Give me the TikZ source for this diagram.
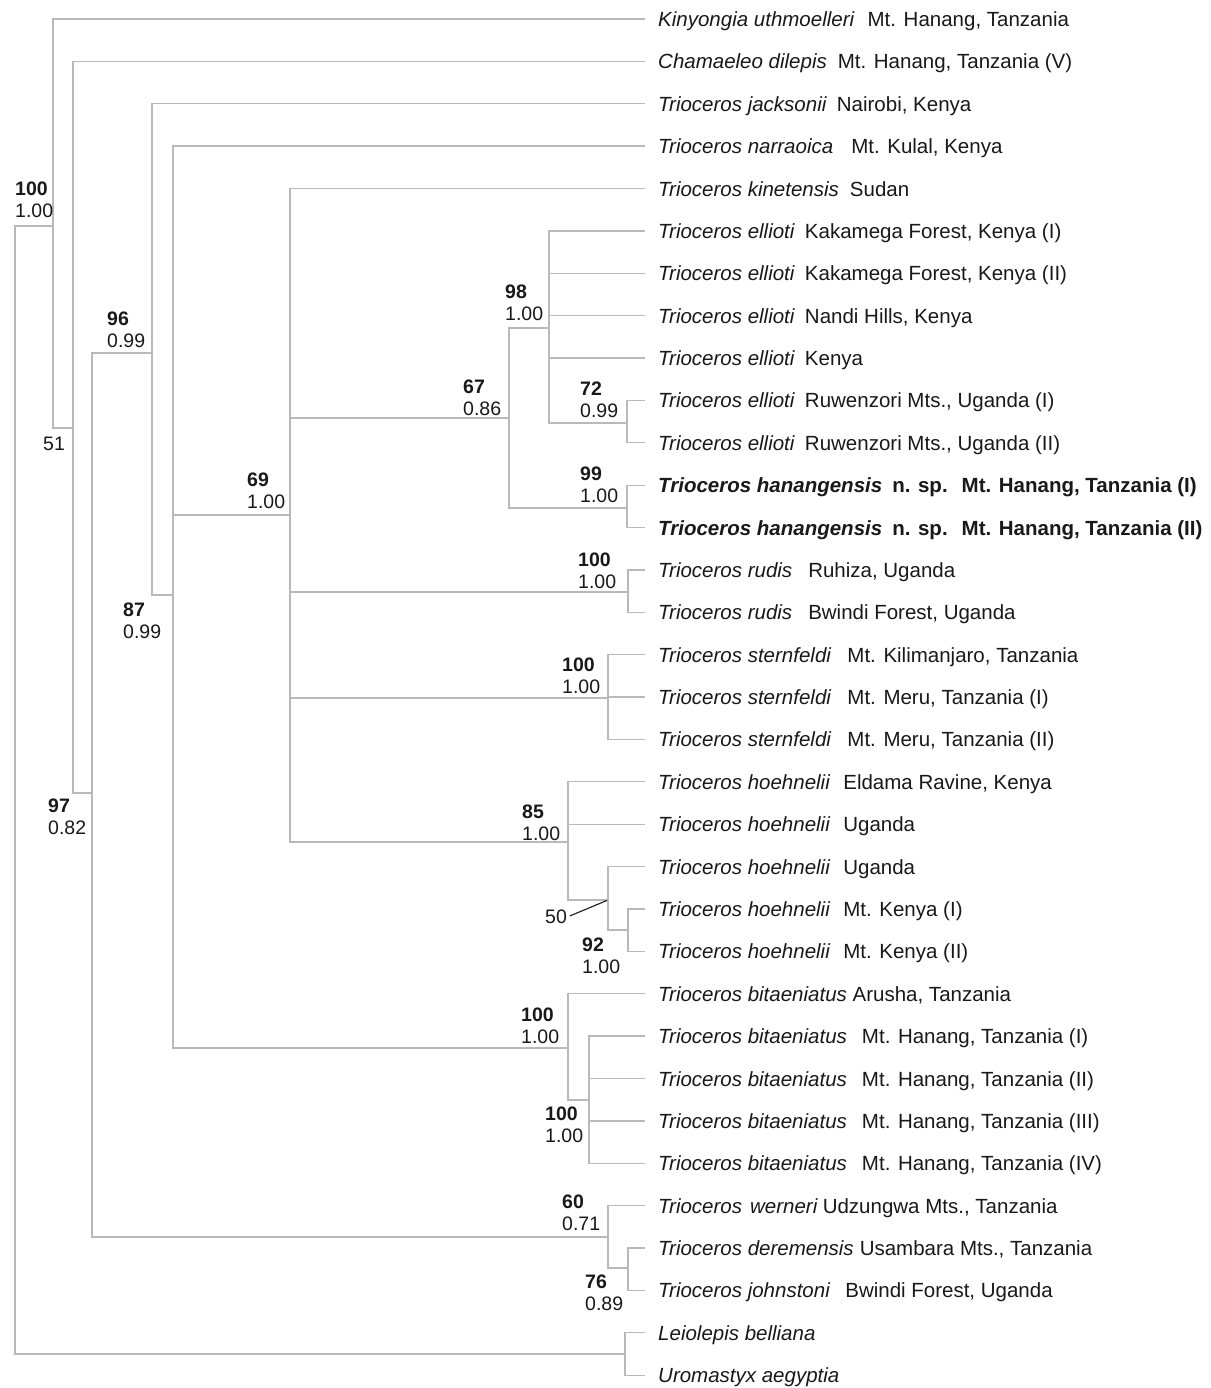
\documentclass[tikz,border=0pt]{standalone}
\usepackage{fontspec}
\setmainfont{Liberation Sans}
\definecolor{linegray}{RGB}{185,185,185}
\definecolor{txt}{RGB}{25,25,25}
\newcommand{\tiprow}[2]{%
  \coordinate (t#1) at (645,{19+(#1-1)*42.38});
  \node[tax] (l#1) at (658,{26.5+(#1-1)*42.38}) {#2};}
\newcommand{\tg}[1]{\hspace{#1pt}}
\begin{document}
\begin{tikzpicture}[x=1pt,y=-1pt,
  br/.style={draw=linegray, line width=1.3pt},
  ptr/.style={draw=txt, line width=1.1pt},
  tax/.style={anchor=base west, inner sep=0pt, font=\fontsize{20.5}{22}\selectfont, text=txt},
  sup/.style={anchor=north west, inner sep=0pt, align=left, font=\fontsize{19.5}{22}\selectfont, text=txt}]
\useasboundingbox[fill=white] (0,0) rectangle (1210,1388);

% tips and labels
\tiprow{1}{\textit{Kinyongia uthmoelleri}\tg{13}Mt. Hanang, Tanzania}
\tiprow{2}{\textit{Chamaeleo dilepis}\tg{11}Mt. Hanang, Tanzania (V)}
\tiprow{3}{\textit{Trioceros jacksonii}\tg{10}Nairobi, Kenya}
\tiprow{4}{\textit{Trioceros narraoica}\tg{18}Mt. Kulal, Kenya}
\tiprow{5}{\textit{Trioceros kinetensis}\tg{11}Sudan}
\tiprow{6}{\textit{Trioceros ellioti}\tg{10}Kakamega Forest, Kenya (I)}
\tiprow{7}{\textit{Trioceros ellioti}\tg{10}Kakamega Forest, Kenya (II)}
\tiprow{8}{\textit{Trioceros ellioti}\tg{10}Nandi Hills, Kenya}
\tiprow{9}{\textit{Trioceros ellioti}\tg{10}Kenya}
\tiprow{10}{\textit{Trioceros ellioti}\tg{10}Ruwenzori Mts., Uganda (I)}
\tiprow{11}{\textit{Trioceros ellioti}\tg{10}Ruwenzori Mts., Uganda (II)}
\tiprow{12}{\textbf{\textit{Trioceros hanangensis}\tg{10}n. sp.\tg{14}Mt. Hanang, Tanzania (I)}}
\tiprow{13}{\textbf{\textit{Trioceros hanangensis}\tg{10}n. sp.\tg{14}Mt. Hanang, Tanzania (II)}}
\tiprow{14}{\textit{Trioceros rudis}\tg{16}Ruhiza, Uganda}
\tiprow{15}{\textit{Trioceros rudis}\tg{16}Bwindi Forest, Uganda}
\tiprow{16}{\textit{Trioceros sternfeldi}\tg{16}Mt. Kilimanjaro, Tanzania}
\tiprow{17}{\textit{Trioceros sternfeldi}\tg{16}Mt. Meru, Tanzania (I)}
\tiprow{18}{\textit{Trioceros sternfeldi}\tg{16}Mt. Meru, Tanzania (II)}
\tiprow{19}{\textit{Trioceros hoehnelii}\tg{13}Eldama Ravine, Kenya}
\tiprow{20}{\textit{Trioceros hoehnelii}\tg{13}Uganda}
\tiprow{21}{\textit{Trioceros hoehnelii}\tg{13}Uganda}
\tiprow{22}{\textit{Trioceros hoehnelii}\tg{13}Mt. Kenya (I)}
\tiprow{23}{\textit{Trioceros hoehnelii}\tg{13}Mt. Kenya (II)}
\tiprow{24}{\textit{Trioceros bitaeniatus} Arusha, Tanzania}
\tiprow{25}{\textit{Trioceros bitaeniatus}\tg{15}Mt. Hanang, Tanzania (I)}
\tiprow{26}{\textit{Trioceros bitaeniatus}\tg{15}Mt. Hanang, Tanzania (II)}
\tiprow{27}{\textit{Trioceros bitaeniatus}\tg{15}Mt. Hanang, Tanzania (III)}
\tiprow{28}{\textit{Trioceros bitaeniatus}\tg{15}Mt. Hanang, Tanzania (IV)}
\tiprow{29}{\textit{Trioceros\tg{8}werneri}\tg{5}Udzungwa Mts., Tanzania}
\tiprow{30}{\textit{Trioceros deremensis}\tg{6}Usambara Mts., Tanzania}
\tiprow{31}{\textit{Trioceros johnstoni}\tg{15}Bwindi Forest, Uganda}
\tiprow{32}{\textit{Leiolepis belliana}}
\tiprow{33}{\textit{Uromastyx aegyptia}}

% internal nodes
\coordinate (R) at (15,790);
\coordinate (A) at (53,226);
\coordinate (B) at (73,428);
\coordinate (C) at (92,793);
\coordinate (D) at (152,353);
\coordinate (E) at (173,595);
\coordinate (F) at (290,515);
\coordinate (G) at (509,418);
\coordinate (H) at (549,328);
\coordinate (K72) at (627,423);
\coordinate (HA) at (627,508);
\coordinate (RU) at (628,592);
\coordinate (ST) at (608,698);
\coordinate (HO) at (568,842);
\coordinate (N50) at (608,900);
\coordinate (N92) at (628,930);
\coordinate (BT) at (568,1048);
\coordinate (BI) at (589,1100);
\coordinate (W) at (608,1237);
\coordinate (N76) at (628,1268);
\coordinate (OG) at (625,1354);

% branches
\draw[br] (R) |- (A);  \draw[br] (R) |- (OG);
\draw[br] (A) |- (t1); \draw[br] (A) |- (B);
\draw[br] (B) |- (t2); \draw[br] (B) |- (C);
\draw[br] (C) |- (D);  \draw[br] (C) |- (W);
\draw[br] (D) |- (t3); \draw[br] (D) |- (E);
\draw[br] (E) |- (t4); \draw[br] (E) |- (F); \draw[br] (E) |- (BT);
\draw[br] (F) |- (t5); \draw[br] (F) |- (G); \draw[br] (F) |- (RU);
\draw[br] (F) |- (ST); \draw[br] (F) |- (HO);
\draw[br] (G) |- (H);  \draw[br] (G) |- (HA);
\foreach \i in {6,7,8,9} {\draw[br] (H) |- (t\i);}
\draw[br] (H) |- (K72);
\draw[br] (K72) |- (t10); \draw[br] (K72) |- (t11);
\draw[br] (HA) |- (t12);  \draw[br] (HA) |- (t13);
\draw[br] (RU) |- (t14);  \draw[br] (RU) |- (t15);
\foreach \i in {16,17,18} {\draw[br] (ST) |- (t\i);}
\draw[br] (HO) |- (t19); \draw[br] (HO) |- (t20); \draw[br] (HO) |- (N50);
\draw[br] (N50) |- (t21); \draw[br] (N50) |- (N92);
\draw[br] (N92) |- (t22); \draw[br] (N92) |- (t23);
\draw[br] (BT) |- (t24); \draw[br] (BT) |- (BI);
\foreach \i in {25,26,27,28} {\draw[br] (BI) |- (t\i);}
\draw[br] (W) |- (t29); \draw[br] (W) |- (N76);
\draw[br] (N76) |- (t30); \draw[br] (N76) |- (t31);
\draw[br] (OG) |- (t32); \draw[br] (OG) |- (t33);

% support values
\node[sup] (sA) at (15,182) {\textbf{100}\\1.00};
\node[sup] (sB) at (43,437) {51};
\node[sup] (sD) at (107,312) {\textbf{96}\\0.99};
\node[sup] (sE) at (123,603) {\textbf{87}\\0.99};
\node[sup] (sC) at (48,799) {\textbf{97}\\0.82};
\node[sup] (sF) at (247,473) {\textbf{69}\\1.00};
\node[sup] (sG) at (463,380) {\textbf{67}\\0.86};
\node[sup] (sH) at (505,285) {\textbf{98}\\1.00};
\node[sup] (sK) at (580,382) {\textbf{72}\\0.99};
\node[sup] (sHA) at (580,467) {\textbf{99}\\1.00};
\node[sup] (sRU) at (578,553) {\textbf{100}\\1.00};
\node[sup] (sST) at (562,658) {\textbf{100}\\1.00};
\node[sup] (sHO) at (522,805) {\textbf{85}\\1.00};
\node[sup] (s92) at (582,938) {\textbf{92}\\1.00};
\node[sup] (s50) at (545,910) {50};
\node[sup] (sBT) at (521,1008) {\textbf{100}\\1.00};
\node[sup] (sBI) at (545,1107) {\textbf{100}\\1.00};
\node[sup] (sW) at (562,1195) {\textbf{60}\\0.71};
\node[sup] (s76) at (585,1275) {\textbf{76}\\0.89};
\draw[ptr, shorten <=3pt, shorten >=1pt] (s50.east) -- (N50);
\end{tikzpicture}
\end{document}
